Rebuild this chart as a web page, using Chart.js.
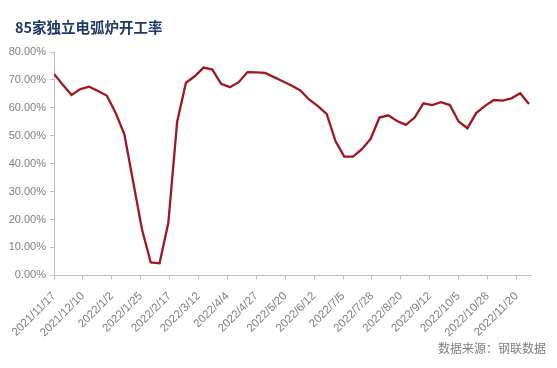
<!DOCTYPE html>
<html>
<head>
<meta charset="utf-8">
<script src="https://cdn.jsdelivr.net/npm/chart.js@4/dist/chart.umd.min.js"></script>
<style>
    html, body { margin: 0; padding: 0; background: #fff; }
    #wrap { width: 557px; height: 368px; position: relative; }
</style>
</head>
<body>
<div id="wrap"><canvas id="chart"></canvas></div>
<script>
const chartTitle = "85家独立电弧炉开工率";
const sourceText = "数据来源：钢联数据";

// weekly observation dates
const dates = [
    "2021/11/17", "2021/11/24", "2021/12/1", "2021/12/8", "2021/12/15", "2021/12/22", "2021/12/29",
    "2022/1/5", "2022/1/12", "2022/1/19", "2022/1/26", "2022/2/2", "2022/2/9", "2022/2/16", "2022/2/23",
    "2022/3/2", "2022/3/9", "2022/3/16", "2022/3/23", "2022/3/30", "2022/4/6", "2022/4/13", "2022/4/20",
    "2022/4/27", "2022/5/4", "2022/5/11", "2022/5/18", "2022/5/25", "2022/6/1", "2022/6/8", "2022/6/15",
    "2022/6/22", "2022/6/29", "2022/7/6", "2022/7/13", "2022/7/20", "2022/7/27", "2022/8/3", "2022/8/10",
    "2022/8/17", "2022/8/24", "2022/8/31", "2022/9/7", "2022/9/14", "2022/9/21", "2022/9/28", "2022/10/5",
    "2022/10/12", "2022/10/19", "2022/10/26", "2022/11/2", "2022/11/9", "2022/11/16", "2022/11/23", "2022/11/30"
];

// operating rate, %
const rates = [
    72.1, 68.3, 64.6, 66.7, 67.6, 66.0, 64.4,
    58.2, 50.5, 33.5, 16.5, 4.6, 4.3, 18.8, 55.0,
    69.0, 71.3, 74.4, 73.7, 68.6, 67.4, 69.2, 72.8,
    72.7, 72.5, 71.0, 69.5, 68.0, 66.2, 63.0, 60.6,
    57.8, 48.1, 42.5, 42.5, 45.2, 48.9, 56.5, 57.3,
    55.3, 53.9, 56.5, 61.6, 61.0, 62.0, 61.0, 55.1,
    52.7, 58.1, 60.7, 62.8, 62.6, 63.4, 65.2, 61.4
];

// date-axis tick labels (every 23 days)
const tickLabels = [
    "2021/11/17", "2021/12/10", "2022/1/2", "2022/1/25", "2022/2/17", "2022/3/12",
    "2022/4/4", "2022/4/27", "2022/5/20", "2022/6/12", "2022/7/5", "2022/7/28",
    "2022/8/20", "2022/9/12", "2022/10/5", "2022/10/28", "2022/11/20"
];

const yTicks = [0, 10, 20, 30, 40, 50, 60, 70, 80];

function toDay(str) {
    const p = str.split("/").map(Number);
    return Date.UTC(p[0], p[1] - 1, p[2]) / 86400000;
}

const day0 = toDay(dates[0]);
const points = dates.map((d, i) => ({ x: toDay(d) - day0, y: rates[i] }));
const tickDays = tickLabels.map((d) => toDay(d) - day0);

const axisColor = "#bfbfbf";
const textColor = "#7f7f7f";

const textPlugin = {
    id: "texts",
    afterDraw(chart) {
        const ctx = chart.ctx;
        ctx.save();
        ctx.fillStyle = "#1f3864";
        ctx.font = "bold 14.5px 'Noto Sans CJK SC'";
        ctx.textAlign = "left";
        ctx.textBaseline = "alphabetic";
        ctx.fillText(chartTitle, 15, 33);

        ctx.fillStyle = textColor;
        ctx.font = "12px 'Noto Sans CJK SC'";
        ctx.textAlign = "right";
        ctx.fillText(sourceText, 546, 353);
        ctx.restore();
    }
};

new Chart(document.getElementById("chart"), {
    type: "line",
    data: {
        datasets: [{
            data: points,
            borderColor: "#9e1822",
            borderWidth: 2.3,
            pointRadius: 0,
            tension: 0,
            fill: false
        }]
    },
    options: {
        responsive: true,
        maintainAspectRatio: false,
        animation: false,
        layout: { padding: { left: 0, right: 25.5, top: 52, bottom: 0 } },
        plugins: {
            legend: { display: false },
            tooltip: { enabled: false }
        },
        scales: {
            x: {
                type: "linear",
                min: 0,
                max: 380,
                afterBuildTicks(scale) {
                    scale.ticks = tickDays.map((v) => ({ value: v }));
                },
                afterFit(scale) {
                    scale.height = 92.7;
                },
                ticks: {
                    autoSkip: false,
                    maxRotation: 45,
                    minRotation: 45,
                    padding: 10,
                    color: textColor,
                    font: { family: "'Liberation Sans'", size: 11.5 },
                    callback(value) {
                        const i = tickDays.indexOf(value);
                        return i >= 0 ? tickLabels[i] : "";
                    }
                },
                grid: {
                    drawOnChartArea: false,
                    tickLength: 4,
                    color: axisColor
                },
                border: { color: axisColor }
            },
            y: {
                min: 0,
                max: 80,
                afterBuildTicks(scale) {
                    scale.ticks = yTicks.map((v) => ({ value: v }));
                },
                afterFit(scale) {
                    scale.width = 54;
                },
                ticks: {
                    padding: 4,
                    color: textColor,
                    font: { family: "'Liberation Sans'", size: 11 },
                    callback(value) {
                        return value.toFixed(2) + "%";
                    }
                },
                grid: {
                    drawOnChartArea: false,
                    tickLength: 4,
                    color: axisColor
                },
                border: { color: axisColor }
            }
        }
    },
    plugins: [textPlugin]
});
</script>
</body>
</html>
